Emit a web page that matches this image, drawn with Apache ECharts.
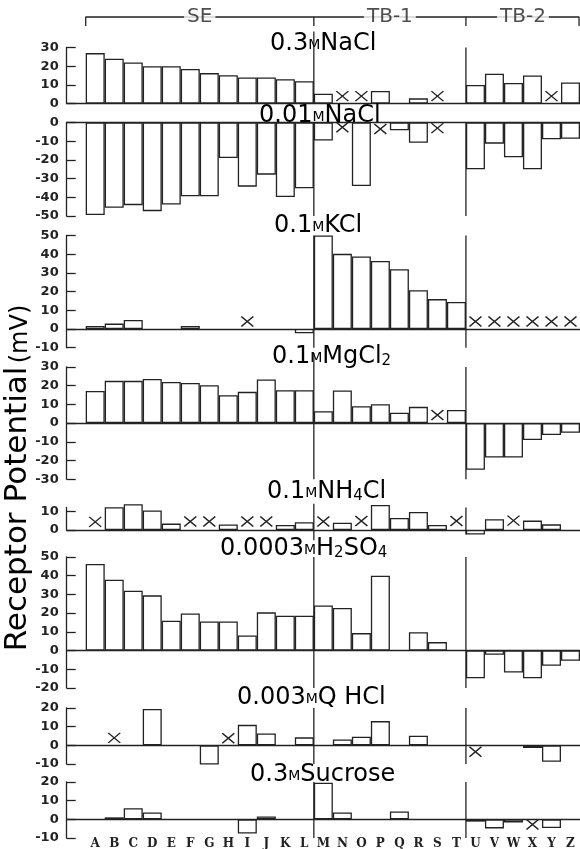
<!DOCTYPE html>
<html>
<head>
<meta charset="utf-8">
<script src="https://cdn.jsdelivr.net/npm/echarts@6/dist/echarts.min.js"></script>
<style>
html, body { margin: 0; padding: 0; background: #fff; }
#chart { width: 580px; height: 849px; }
</style>
</head>
<body>
<div id="chart"></div>
<script>
// receptor potential (mV) per fibre type A..Z, null = no bar
const letters = ['A','B','C','D','E','F','G','H','I','J','K','L','M','N','O','P','Q','R','S','T','U','V','W','X','Y','Z']
const groupNames = ['SE', 'TB-1', 'TB-2']
const groupBounds = [1, 13, 21, 27] // slot 0 is the empty gap next to the y axis

const naclHighBars = [27, 24, 22, 20, 20, 18.5, 16.3, 15.2, 14, 14, 13, 12, 5.3, null, null, 6.7, null, 2.8, null, null, 10, 16, 11, 15, null, 11.3]
const naclHighCross = [null, null, null, null, null, null, null, null, null, null, null, null, null, 4, 4, null, null, null, 4, null, null, null, null, null, 4, null]

const naclLowBars = [-49.5, -45.6, -44.2, -47.4, -43.9, -39.5, -39.5, -19, -34.3, -27.9, -39.9, -35.2, -9.6, null, -34, null, -4.2, -10.8, null, null, -25, -11.3, -18.6, -25, -9, -8.7]
const naclLowCross = [null, null, null, null, null, null, null, null, null, null, null, null, null, -2.5, null, -3.5, null, null, -3, null, null, null, null, null, null, null]

const kclBars = [1.6, 2.9, 4.8, null, null, 1.6, null, null, null, null, null, -2.3, 50, 40.2, 38.8, 36.4, 32, 20.7, 16, 14.5, null, null, null, null, null, null]
const kclCross = [null, null, null, null, null, null, null, null, 4, null, null, null, null, null, null, null, null, null, null, null, 4, 4, 4, 4, 4, 4]

const mgcl2Bars = [17.2, 22.6, 22.6, 23.6, 22, 21.5, 20.3, 14.9, 16.7, 23.3, 17.6, 17.6, 6.4, 17.4, 9, 10.1, 5.5, 8.7, null, 7, -25, -18.4, -18.4, -9, -6.4, -5.2]
const mgcl2Cross = [null, null, null, null, null, null, null, null, null, null, null, null, null, null, null, null, null, null, 4.3, null, null, null, null, null, null, null]

const nh4clBars = [null, 12.1, 13.8, 10.4, 3.4, null, null, 2.9, null, null, 2.7, 4.1, null, 3.9, null, 13.4, 6.4, 9.6, 2.7, null, -2.5, 5.7, null, 5, 3, null]
const nh4clCross = [4.3, null, null, null, null, 4.5, 4.5, null, 4.5, 4.5, null, null, 4.5, null, 4.8, null, null, null, null, 4.8, null, null, 5, null, null, null]

const h2so4Bars = [46.3, 37.9, 32, 29.5, 15.9, 19.8, 15.5, 15.5, 8, 20.4, 18.6, 18.6, 24.1, 22.7, 9.3, 40, null, 9.8, 4.5, null, -14.8, -2.3, -11.8, -14.8, -8.2, -5.5]
const h2so4Cross = []

const qhclBars = [null, null, null, 19.5, null, null, -10.2, null, 11, 6.4, null, 4.3, null, 3.2, 4.6, 13, null, 5.2, null, null, null, null, null, -1.4, -8.8, null]
const qhclCross = [null, 4, null, null, null, null, null, 3.8, null, null, null, null, null, null, null, null, null, null, null, null, -3.4, null, null, null, null, null]

const sucroseBars = [null, 1.1, 6, 3.7, null, null, null, null, -7.6, 1.6, null, null, 19.6, 3.7, null, null, 4.2, null, null, null, -1.2, -4.8, -1.6, null, -4.6, null]
const sucroseCross = [null, null, null, null, null, null, null, null, null, null, null, null, null, null, null, null, null, null, null, null, null, null, null, -2.7, null, null]

// seps: extent of the L|M and T|U divider lines where they differ from the axis range
const panels = [
    { title: '{n|0.3}{m|M}{n|NaCl}', bars: naclHighBars, cross: naclHighCross, min: 0, max: 30, seps: [[0, 38.5], [0, 30]] },
    { title: '{n|0.01}{m|M}{n|NaCl}', bars: naclLowBars, cross: naclLowCross, min: -50, max: 0 },
    { title: '{n|0.1}{m|M}{n|KCl}', bars: kclBars, cross: kclCross, min: -10, max: 50 },
    { title: '{n|0.1}{m|M}{n|MgCl}{s|2}', bars: mgcl2Bars, cross: mgcl2Cross, min: -30, max: 30, seps: [[-30, 37.5], [-30, 30]] },
    { title: '{n|0.1}{m|M}{n|NH}{s|4}{n|Cl}', bars: nh4clBars, cross: nh4clCross, min: 0, max: 12, ticks: [0, 10], seps: [[-5.5, 14], [-2.5, 12]] },
    { title: '{n|0.0003}{m|M}{n|H}{s|2}{n|SO}{s|4}', bars: h2so4Bars, cross: h2so4Cross, min: -20, max: 50 },
    { title: '{n|0.003}{m|M}{n|Q HCl}', bars: qhclBars, cross: qhclCross, min: -10, max: 20 },
    { title: '{n|0.3}{m|M}{n|Sucrose}', bars: sucroseBars, cross: sucroseCross, min: -10, max: 20 }
]

// layout
const gridLeft = 66.7
const unitPx = 1.87
const panelTop = [47.5, 122.5, 235.5, 367, 507.5, 557, 708, 782]
const titlePos = [[270, 42], [259, 114], [274, 224], [272, 355], [267, 490], [220, 547], [237, 696], [250, 773]]
const ink = '#222'
const font = 'DejaVu Sans'

const slots = [''].concat(letters)
const pad = (arr) => [null].concat(letters.map((l, i) => (arr[i] === undefined ? null : arr[i])))

let grid = []
let xAxis = []
let yAxis = []
let series = []
const last = panels.length - 1

panels.forEach((p, i) => {
    grid.push({ left: gridLeft, right: 0, top: panelTop[i], height: (p.max - p.min) * unitPx, outerBoundsMode: 'none' })
    xAxis.push({
        type: 'category',
        gridIndex: i,
        data: slots,
        boundaryGap: true,
        axisLine: { onZero: true, lineStyle: { color: ink, width: 1.3 } },
        axisTick: { show: false },
        axisLabel: { show: false },
        splitLine: { show: false }
    })
    xAxis.push({ type: 'value', gridIndex: i, min: 0, max: 27, show: false })
    let labelOpt = { color: ink, fontFamily: font, fontWeight: 'bold', fontSize: 13, margin: 8 }
    let tickOpt = { show: true, inside: true, length: 9, lineStyle: { color: ink, width: 1.3 } }
    if (p.ticks) {
        labelOpt.customValues = p.ticks
        tickOpt.customValues = p.ticks
    }
    yAxis.push({
        type: 'value',
        gridIndex: i,
        min: p.min,
        max: p.max,
        interval: 10,
        axisLine: { show: true, onZero: false, lineStyle: { color: ink, width: 1.3 } },
        axisTick: tickOpt,
        axisLabel: labelOpt,
        splitLine: { show: false }
    })
    series.push({
        type: 'bar',
        xAxisIndex: 2 * i,
        yAxisIndex: i,
        data: pad(p.bars),
        barCategoryGap: '0%',
        clip: false,
        silent: true,
        itemStyle: { color: '#fff', borderColor: ink, borderWidth: 1.3 }
    })
    series.push({
        type: 'scatter',
        xAxisIndex: 2 * i,
        yAxisIndex: i,
        data: pad(p.cross),
        symbol: 'path://M0,0L10,10M10,0L0,10',
        symbolSize: [12, 10],
        clip: false,
        silent: true,
        z: 4,
        itemStyle: { color: 'transparent', borderColor: ink, borderWidth: 1.4, opacity: 1 }
    })
    // group dividers between L|M and T|U
    ;[groupBounds[1], groupBounds[2]].forEach((b, k) => {
        let ext = p.seps ? p.seps[k] : [p.min, p.max]
        series.push({
            type: 'line',
            xAxisIndex: 2 * i + 1,
            yAxisIndex: i,
            data: [[b, ext[0]], [b, ext[1]]],
            symbol: 'none',
            silent: true,
            clip: false,
            z: 5,
            lineStyle: { color: ink, width: 1.3 }
        })
    })
})

// letters under the last panel, on an axis of their own at the grid bottom
const labelAxisIndex = xAxis.length
xAxis.push({
    type: 'category',
    gridIndex: last,
    position: 'bottom',
    data: slots,
    boundaryGap: true,
    axisLine: { show: false, onZero: false },
    axisTick: { show: false },
    axisLabel: { show: true, interval: 0, margin: 0, color: ink, fontFamily: 'DejaVu Serif', fontWeight: 'bold', fontSize: 12 },
    splitLine: { show: false }
})
series.push({ type: 'bar', xAxisIndex: labelAxisIndex, yAxisIndex: last, data: [], silent: true })

// bracket with group names on top
const bi = panels.length
grid.push({ left: gridLeft, right: 0, top: 17, height: 9, outerBoundsMode: 'none' })
const bx = xAxis.length
xAxis.push({ type: 'value', gridIndex: bi, min: 0, max: 27, show: false })
yAxis.push({ type: 'value', gridIndex: bi, min: 0, max: 1, show: false })
const bracketLine = (pts) => ({
    type: 'line',
    xAxisIndex: bx,
    yAxisIndex: bi,
    data: pts,
    symbol: 'none',
    silent: true,
    clip: false,
    lineStyle: { color: ink, width: 1.3 }
})
series.push(bracketLine([[groupBounds[0], 0], [groupBounds[0], 1], [groupBounds[3] - 0.05, 1], [groupBounds[3] - 0.05, 0]]))
series.push(bracketLine([[groupBounds[1], 1], [groupBounds[1], 0]]))
series.push(bracketLine([[groupBounds[2], 1], [groupBounds[2], 0]]))
series.push({
    type: 'scatter',
    xAxisIndex: bx,
    yAxisIndex: bi,
    symbolSize: 1,
    silent: true,
    z: 6,
    data: groupNames.map((n, k) => ({ name: n, value: [(groupBounds[k] + groupBounds[k + 1]) / 2, 1] })),
    itemStyle: { color: 'transparent' },
    label: {
        show: true,
        position: 'inside',
        formatter: '{b}',
        color: ink,
        fontFamily: font,
        fontSize: 20,
        backgroundColor: '#fff',
        padding: [0, 3]
    }
})

const titleRich = {
    n: { fontFamily: font, fontSize: 24, color: ink, lineHeight: 28, verticalAlign: 'bottom' },
    m: { fontFamily: font, fontSize: 14, color: ink, lineHeight: 16, verticalAlign: 'bottom', padding: [0, 0, 4, 0] },
    s: { fontFamily: font, fontSize: 15, color: ink, lineHeight: 15, verticalAlign: 'bottom' }
}

let graphic = panels.map((p, i) => ({
    type: 'text',
    x: titlePos[i][0],
    y: titlePos[i][1],
    z: 10,
    style: {
        text: p.title,
        rich: titleRich,
        align: 'left',
        verticalAlign: 'middle'
    }
}))
graphic.push({
    type: 'text',
    x: 17,
    y: 478,
    rotation: Math.PI / 2,
    style: {
        text: '{a|Receptor}   {a|Potential} {b|(mV)}',
        rich: {
            a: { fontFamily: font, fontSize: 31, color: ink, verticalAlign: 'bottom', lineHeight: 32 },
            b: { fontFamily: font, fontSize: 24, color: ink, verticalAlign: 'bottom', lineHeight: 28 }
        },
        align: 'center',
        verticalAlign: 'middle'
    }
})

let myChart = echarts.init(document.getElementById('chart'), null, { renderer: 'canvas' })
let option = {
    backgroundColor: '#fff',
    animation: false,
    grid: grid,
    xAxis: xAxis,
    yAxis: yAxis,
    series: series,
    graphic: graphic
}
option && myChart.setOption(option)
</script>
</body>
</html>
